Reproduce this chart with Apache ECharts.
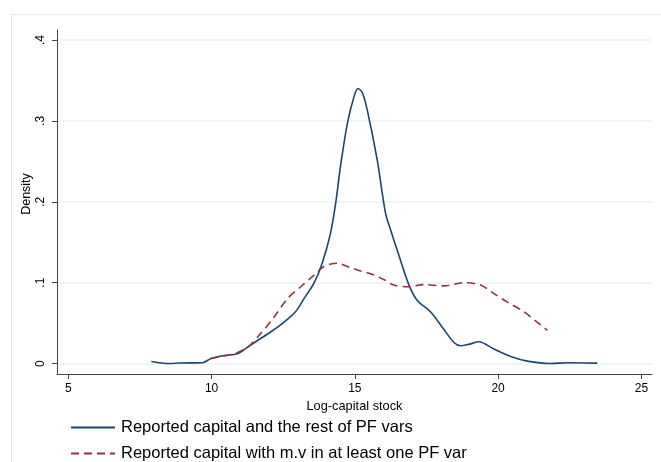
<!DOCTYPE html>
<html>
<head>
<meta charset="utf-8">
<script src="https://cdn.jsdelivr.net/npm/echarts@6/dist/echarts.min.js"></script>
<style>html,body{margin:0;padding:0;background:#fff;}#c{width:661px;height:462px;}</style>
</head>
<body>
<div id="c"></div>
<script>
var xTicks = [5, 10, 15, 20, 25];
var yTicks = [0, 0.1, 0.2, 0.3, 0.4];
var seriesNames = ['Reported capital and the rest of PF vars', 'Reported capital with m.v in at least one PF var'];
var blueX = [7.90, 8.51, 8.92, 9.68, 9.97, 10.43, 10.90, 11.25, 11.60, 12.06, 12.52, 12.93, 13.22, 13.57, 13.86, 14.15, 14.33, 14.50, 14.74, 14.97, 15.11, 15.26, 15.43, 15.78, 16.07, 16.25, 16.48, 16.89, 17.18, 17.64, 18.05, 18.46, 18.69, 19.00, 19.33, 19.85, 20.44, 21.02, 21.83, 22.42, 23.46];
var blueY = [0.0025, 0.0, 0.0007, 0.001, 0.006, 0.010, 0.012, 0.020, 0.0285, 0.039, 0.051, 0.064, 0.080, 0.099, 0.124, 0.161, 0.198, 0.244, 0.297, 0.330, 0.340, 0.335, 0.314, 0.252, 0.186, 0.165, 0.140, 0.097, 0.078, 0.064, 0.045, 0.026, 0.022, 0.024, 0.027, 0.018, 0.0087, 0.003, 0.0, 0.001, 0.0005];
var redX = [9.97, 10.78, 11.25, 11.71, 12.17, 12.64, 13.11, 13.57, 13.92, 14.39, 14.74, 15.20, 15.55, 16.01, 16.36, 16.83, 17.41, 18.11, 18.81, 19.39, 19.85, 20.32, 20.90, 21.37, 21.72];
var redY = [0.0066, 0.012, 0.020, 0.037, 0.057, 0.080, 0.095, 0.109, 0.120, 0.124, 0.120, 0.1145, 0.111, 0.104, 0.097, 0.095, 0.0976, 0.096, 0.100, 0.097, 0.0865, 0.076, 0.064, 0.051, 0.041];

function pairs(xs, ys) { return xs.map(function (x, i) { return [x, ys[i]]; }); }
function fmtY(v) { if (Math.abs(v) < 1e-9) return '0'; return ('' + Math.round(v * 10) / 10).replace(/^0/, ''); }

var font = 'Liberation Sans, Arial, sans-serif';
var chart = echarts.init(document.getElementById('c'), null, { renderer: 'canvas' });
chart.setOption({
  animation: false,
  backgroundColor: '#ffffff',
  graphic: [{
    type: 'rect', silent: true, z: -1,
    shape: { x: 11.5, y: 14.5, width: 700, height: 500 },
    style: { fill: 'none', stroke: '#e3eaec', lineWidth: 1 }
  }],
  grid: { left: 57, right: 9, top: 30, bottom: 88, containLabel: false },
  legend: {
    orient: 'vertical', left: 70, top: 419, padding: 0,
    itemWidth: 44, itemHeight: 12, itemGap: 9, height: 60,
    itemStyle: { opacity: 0 },
    textStyle: { fontFamily: font, fontSize: 16.5, color: '#000', padding: [0, 0, 0, 1] },
    data: seriesNames
  },
  xAxis: {
    type: 'value', min: 4.606, max: 25.37,
    name: 'Log-capital stock', nameLocation: 'middle', nameGap: 24,
    nameTextStyle: { fontFamily: font, fontSize: 12.8, color: '#000' },
    axisLine: { show: true, onZero: false, lineStyle: { color: '#444', width: 1 } },
    axisTick: { show: true, length: 5, customValues: xTicks, lineStyle: { color: '#444' } },
    axisLabel: { customValues: xTicks, fontFamily: font, fontSize: 12, color: '#000', margin: 9 },
    splitLine: { show: false }
  },
  yAxis: {
    type: 'value', min: -0.0129, max: 0.4124,
    name: 'Density', nameLocation: 'middle', nameGap: 24, nameRotate: 90, nameMoveOverlap: false,
    nameTextStyle: { fontFamily: font, fontSize: 12.5, color: '#000', padding: [0, 0, 0, 16] },
    axisLine: { show: true, onZero: false, lineStyle: { color: '#444', width: 1 } },
    axisTick: { show: true, length: 5, customValues: yTicks, lineStyle: { color: '#444' } },
    axisLabel: { customValues: yTicks, rotate: 90, fontFamily: font, fontSize: 12, color: '#000', margin: 10, formatter: fmtY },
    splitLine: { show: true, lineStyle: { color: '#eaf1f3', width: 1.5 } }
  },
  series: [
    {
      name: seriesNames[0], type: 'line', data: pairs(blueX, blueY),
      smooth: 0.3, symbol: 'none',
      lineStyle: { color: '#1a476f', width: 1.6 }, itemStyle: { color: '#1a476f' }
    },
    {
      name: seriesNames[1], type: 'line', data: pairs(redX, redY),
      smooth: 0.3, symbol: 'none',
      lineStyle: { color: '#90353b', width: 1.6, type: [8, 5] }, itemStyle: { color: '#90353b' }
    }
  ]
});
</script>
</body>
</html>
